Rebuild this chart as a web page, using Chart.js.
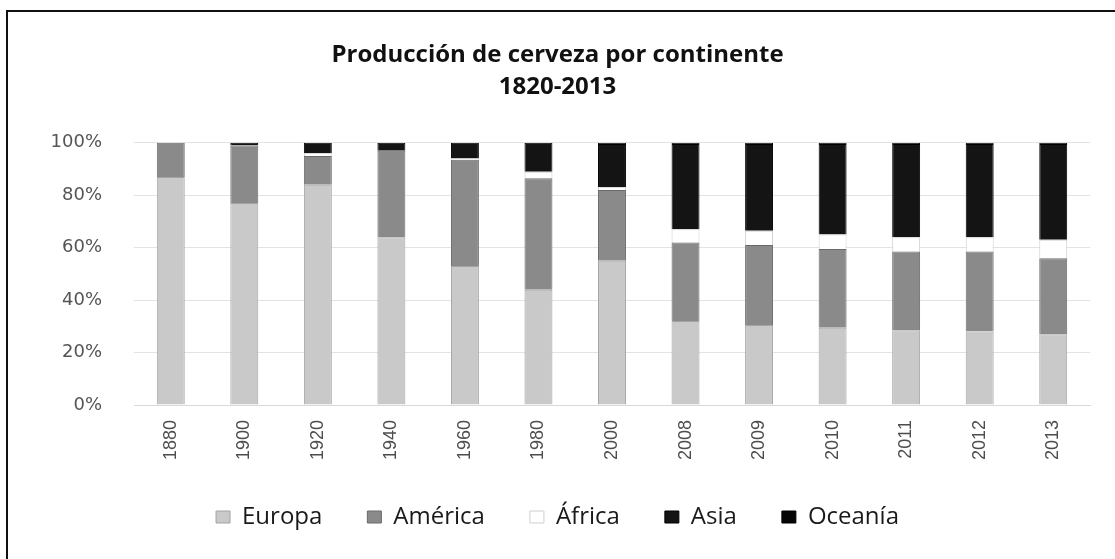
<!DOCTYPE html>
<html>
<head>
<meta charset="utf-8">
<title>Producción de cerveza por continente</title>
<script src="https://cdn.jsdelivr.net/npm/chart.js@4.4.1/dist/chart.umd.min.js"></script>
<style>
  body { margin: 0; background: #fff; }
  #wrap { position: relative; width: 1115px; height: 559px; }
  #frame {
    position: absolute; left: 6px; top: 10px; right: 0; bottom: 0;
    border-top: 2px solid #111; border-left: 2px solid #111;
    pointer-events: none;
  }
</style>
</head>
<body>
<div id="wrap">
  <canvas id="beer-chart" width="1115" height="559"></canvas>
  <div id="frame"></div>
</div>
<script>
// share of world beer production, % per continent
const years = ['1880', '1900', '1920', '1940', '1960', '1980', '2000', '2008', '2009', '2010', '2011', '2012', '2013'];
const europa  = [87, 77, 84, 64, 53, 44, 55, 32, 30.5, 29.5, 28.5, 28, 27];
const america = [13, 22, 11, 33, 40.5, 42.5, 27, 30, 30.5, 30, 30, 30.5, 29];
const africa  = [0, 0, 1, 0, 0.5, 2.5, 1, 5, 5.5, 5.5, 5.5, 5.5, 7];
const asia    = [0, 1, 4, 3, 6, 11, 16.5, 32.5, 33, 34.5, 35.5, 35.5, 36.5];
const oceania = [0, 0, 0, 0, 0, 0, 0.5, 0.5, 0.5, 0.5, 0.5, 0.5, 0.5];
const yTicks  = [0, 20, 40, 60, 80, 100];

function serie(label, data, fill, border) {
    return {
        label: label,
        data: data,
        backgroundColor: fill,
        borderColor: border,
        borderWidth: 1,
        barPercentage: 0.38,
        categoryPercentage: 1
    };
}

const ctx = document.getElementById('beer-chart').getContext('2d');

const chart = new Chart(ctx, {
    type: 'bar',
    data: {
        labels: years,
        datasets: [
            serie('Europa', europa, '#c9c9c9', '#a3a3a3'),
            serie('América', america, '#8a8a8a', '#6a6a6a'),
            serie('África', africa, '#ffffff', '#cfcfcf'),
            serie('Asia', asia, '#141414', '#000000'),
            serie('Oceanía', oceania, '#050505', '#000000')
        ]
    },
    options: {
        responsive: false,
        animation: false,
        layout: { padding: { left: 25, right: 25, top: 0, bottom: 20 } },
        plugins: {
            title: {
                display: true,
                text: ['Producción de cerveza por continente', '1820-2013'],
                color: '#111',
                font: { family: 'Open Sans', size: 24, weight: 'bold', lineHeight: 1.35 },
                padding: { top: 39, bottom: 39 }
            },
            legend: {
                position: 'bottom',
                labels: {
                    color: '#1a1a1a',
                    font: { family: 'Open Sans', size: 24 },
                    boxWidth: 14,
                    boxHeight: 12,
                    padding: 45
                }
            },
            tooltip: { enabled: false }
        },
        scales: {
            x: {
                stacked: true,
                grid: { display: false },
                border: { color: '#d9d9d9' },
                ticks: {
                    color: '#4d4d4d',
                    font: { family: 'Liberation Sans', size: 18 },
                    minRotation: 90,
                    maxRotation: 90,
                    padding: 7
                },
                afterFit: function(scale) { scale.height = 55; }
            },
            y: {
                stacked: true,
                min: 0,
                max: 100,
                grid: { color: '#e3e3e3', drawTicks: false },
                border: { display: false },
                afterBuildTicks: function(scale) {
                    scale.ticks = yTicks.map(v => ({ value: v }));
                },
                ticks: {
                    color: '#555',
                    font: { family: 'DejaVu Sans', size: 18 },
                    padding: 32,
                    callback: v => v + '%'
                },
                afterFit: function(scale) { scale.width = 109; }
            }
        }
    }
});
</script>
</body>
</html>
